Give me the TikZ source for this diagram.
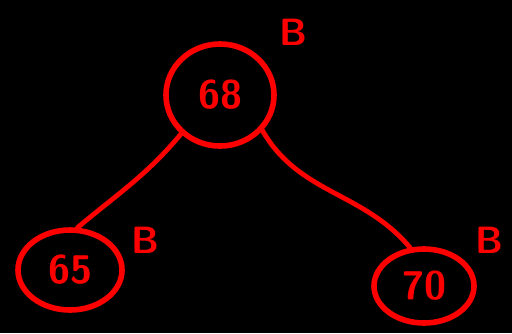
\documentclass[tikz,border=0pt]{standalone}
\usepackage{tikz}
\usetikzlibrary{shapes.geometric}

\begin{document}
\begin{tikzpicture}[x=0.5pt, y=-0.5pt, font=\sffamily\bfseries\fontsize{20pt}{24pt}\selectfont]

% ==================== STYLES ====================
\tikzset{
  keynode/.style={ellipse, draw=red, line width=2.8pt, text=red, inner sep=0pt},
  colour/.style={text=red, font=\sffamily\bfseries\fontsize{19pt}{22pt}\selectfont},
  branch/.style={draw=red, line width=2.4pt, line cap=round}
}

% Background
\fill[black] (0,0) rectangle (512,333);
\useasboundingbox (0,0) rectangle (512,333);

% Keys
\node[keynode, minimum width=108pt*0.5, minimum height=102pt*0.5] (K68) at (220,95) {68};
\node[keynode, minimum width=104pt*0.5, minimum height=80pt*0.5] (K65) at (70,270) {65};
\node[keynode, minimum width=100pt*0.5, minimum height=74pt*0.5] (K70) at (424,286) {70};

% Colour labels
\node[colour] (B68) at (293,32) {B};
\node[colour] (B65) at (145,240) {B};
\node[colour] (B70) at (489,240) {B};

% Branches
\draw[branch] (K68.225) to[out=230, in=40] (K65.80);
\draw[branch] (K68.-40) to[out=-60, in=130] (K70.110);

\end{tikzpicture}
\end{document}
